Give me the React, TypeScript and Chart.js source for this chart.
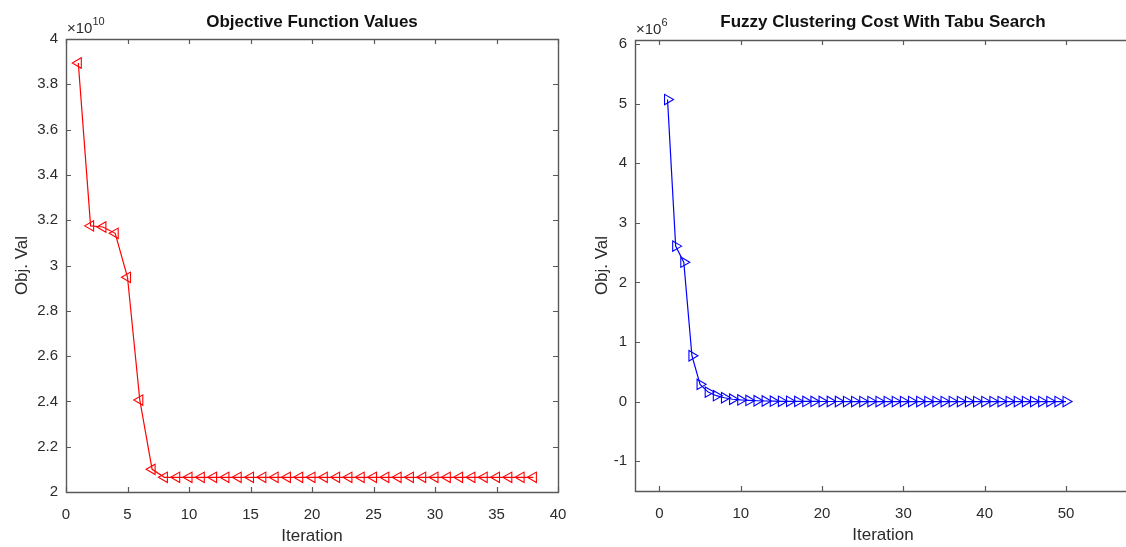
import React, { useEffect, useRef } from "react";
import { Chart, registerables } from "chart.js";
Chart.register(...registerables);

// ---- Left chart data ----
const leftTitle = "Objective Function Values";
const leftIterations = [1, 2, 3, 4, 5, 6, 7, 8, 9, 10, 11, 12, 13, 14, 15, 16, 17, 18, 19, 20, 21, 22, 23, 24, 25, 26, 27, 28, 29, 30, 31, 32, 33, 34, 35, 36, 37, 38];
const leftValues = [
  3.894e10, 3.175e10, 3.17e10, 3.142e10, 2.948e10, 2.406e10, 2.1e10,
  2.065e10, 2.065e10, 2.065e10, 2.065e10, 2.065e10, 2.065e10, 2.065e10, 2.065e10,
  2.065e10, 2.065e10, 2.065e10, 2.065e10, 2.065e10, 2.065e10, 2.065e10, 2.065e10,
  2.065e10, 2.065e10, 2.065e10, 2.065e10, 2.065e10, 2.065e10, 2.065e10, 2.065e10,
  2.065e10, 2.065e10, 2.065e10, 2.065e10, 2.065e10, 2.065e10, 2.065e10,
];
const leftXTicks = [0, 5, 10, 15, 20, 25, 30, 35, 40];
const leftYTicks = [2e10, 2.2e10, 2.4e10, 2.6e10, 2.8e10, 3e10, 3.2e10, 3.4e10, 3.6e10, 3.8e10, 4e10];
const leftExponent = 10;

// ---- Right chart data ----
const rightTitle = "Fuzzy Clustering Cost With Tabu Search";
const rightIterations = [1, 2, 3, 4, 5, 6, 7, 8, 9, 10, 11, 12, 13, 14, 15, 16, 17, 18, 19, 20, 21, 22, 23, 24, 25, 26, 27, 28, 29, 30, 31, 32, 33, 34, 35, 36, 37, 38, 39, 40, 41, 42, 43, 44, 45, 46, 47, 48, 49, 50];
const rightValues = [
  5.07e6, 2.61e6, 2.34e6, 0.77e6, 0.29e6, 0.16e6, 0.1e6, 0.065e6, 0.04e6, 0.028e6,
  0.02e6, 0.015e6, 0.011e6, 0.008e6, 0.006e6, 0.005e6, 0.004e6, 0.003e6, 0.003e6, 0.002e6,
  0.002e6, 0.002e6, 0.001e6, 0.001e6, 0.001e6, 0.001e6, 0.001e6, 0.001e6, 0.001e6, 0.001e6,
  0.001e6, 0.001e6, 0.001e6, 0.001e6, 0.001e6, 0.001e6, 0.001e6, 0.001e6, 0.001e6, 0.001e6,
  0.001e6, 0.001e6, 0.001e6, 0.001e6, 0.001e6, 0.001e6, 0.001e6, 0.001e6, 0.001e6, 0.001e6,
];
const rightXTicks = [0, 10, 20, 30, 40, 50];
const rightYTicks = [-1e6, 0, 1e6, 2e6, 3e6, 4e6, 5e6, 6e6];
const rightExponent = 6;

const xLabel = "Iteration";
const yLabel = "Obj. Val";

const FONT = "'Liberation Sans', Arial, Helvetica, sans-serif";
const TEXT = "#2b2b2b";
const AXIS = "#595959";

type Spec = {
  title: string;
  xs: number[];
  ys: number[];
  xTicks: number[];
  yTicks: number[];
  exp: number;
  xMin: number;
  xMax: number;
  yMin: number;
  yMax: number;
  color: string;
  rotation: number;
  width: number;
  yAxisWidth: number;
  xAxisHeight: number;
  padTop: number;
  padRight: number;
  yLabelX: number;
  drawRight: boolean;
  titleShift: number;
};

const decorPlugin = (spec: Spec) => ({
  id: "matlabDecor",
  afterDraw(chart: any) {
    const ctx = chart.ctx;
    const a = chart.chartArea;
    const xs = chart.scales.x;
    const ys = chart.scales.y;
    ctx.save();
    ctx.strokeStyle = AXIS;
    ctx.lineWidth = 1.4;
    // box
    ctx.beginPath();
    const rx = spec.drawRight ? a.right + 0.5 : chart.width + 5;
    ctx.moveTo(rx, a.top + 0.5);
    ctx.lineTo(a.left + 0.5, a.top + 0.5);
    ctx.lineTo(a.left + 0.5, a.bottom + 0.5);
    ctx.lineTo(rx, a.bottom + 0.5);
    if (spec.drawRight) ctx.closePath();
    ctx.stroke();
    // inward ticks
    const tl = 5;
    ctx.lineWidth = 1.2;
    ctx.beginPath();
    spec.xTicks.forEach((v) => {
      const px = Math.round(xs.getPixelForValue(v)) + 0.5;
      ctx.moveTo(px, a.bottom);
      ctx.lineTo(px, a.bottom - tl);
      ctx.moveTo(px, a.top);
      ctx.lineTo(px, a.top + tl);
    });
    spec.yTicks.forEach((v) => {
      const py = Math.round(ys.getPixelForValue(v)) + 0.5;
      ctx.moveTo(a.left, py);
      ctx.lineTo(a.left + tl, py);
      if (spec.drawRight) {
        ctx.moveTo(a.right, py);
        ctx.lineTo(a.right - tl, py);
      }
    });
    ctx.stroke();

    // title
    ctx.font = `bold 17px ${FONT}`;
    ctx.textAlign = "center";
    ctx.textBaseline = "middle";
    ctx.fillStyle = "#111";
    ctx.fillText(spec.title, (a.left + a.right) / 2 + spec.titleShift, 22);
    ctx.fillStyle = TEXT;
    // x label
    ctx.font = `17px ${FONT}`;
    ctx.fillText(xLabel, (a.left + a.right) / 2 + spec.titleShift, a.bottom + 44);
    // y label
    ctx.save();
    ctx.translate(spec.yLabelX, (a.top + a.bottom) / 2);
    ctx.rotate(-Math.PI / 2);
    ctx.fillText(yLabel, 0, 0);
    ctx.restore();
    // exponent
    ctx.textAlign = "left";
    ctx.textBaseline = "alphabetic";
    ctx.font = `15px ${FONT}`;
    const base = "\u00d710";
    const x0 = a.left + 1;
    ctx.fillText(base, x0, a.top - 6);
    const w = ctx.measureText(base).width;
    ctx.font = `11px ${FONT}`;
    ctx.fillText(String(spec.exp), x0 + w, a.top - 14);
    ctx.restore();
  },
});

function MatlabChart({ spec }: { spec: Spec }) {
  const ref = useRef<HTMLCanvasElement | null>(null);
  useEffect(() => {
    if (!ref.current) return;
    const div = Math.pow(10, spec.exp);
    const chart = new Chart(ref.current, {
      type: "line",
      data: {
        datasets: [
          {
            data: spec.xs.map((x, i) => ({ x, y: spec.ys[i] })),
            borderColor: spec.color,
            borderWidth: 1.2,
            backgroundColor: "rgba(0,0,0,0)",
            pointStyle: "triangle",
            pointRotation: spec.rotation,
            pointRadius: 6,
            pointBorderWidth: 1.1,
            pointBorderColor: spec.color,
            pointBackgroundColor: "rgba(0,0,0,0)",
            tension: 0,
            fill: false,
          },
        ],
      },
      options: {
        responsive: false,
        animation: false,
        devicePixelRatio: 1,
        layout: { padding: { top: spec.padTop, right: spec.padRight, left: 0, bottom: 0 } },
        plugins: { legend: { display: false }, tooltip: { enabled: false }, title: { display: false } },
        scales: {
          x: {
            type: "linear",
            min: spec.xMin,
            max: spec.xMax,
            grid: { display: false, drawTicks: false },
            border: { display: false },
            afterBuildTicks: (s: any) => {
              s.ticks = spec.xTicks.map((v) => ({ value: v }));
            },
            afterFit: (s: any) => {
              s.height = spec.xAxisHeight;
              s.paddingLeft = 0;
              s.paddingRight = 0;
            },
            ticks: {
              autoSkip: false,
              maxRotation: 0,
              padding: 14,
              color: TEXT,
              font: { family: FONT, size: 15 },
              callback: (v: any) => String(v),
            },
          },
          y: {
            type: "linear",
            min: spec.yMin,
            max: spec.yMax,
            grid: { display: false, drawTicks: false },
            border: { display: false },
            afterBuildTicks: (s: any) => {
              s.ticks = spec.yTicks.map((v) => ({ value: v }));
            },
            afterFit: (s: any) => {
              s.width = spec.yAxisWidth;
              s.paddingTop = 0;
              s.paddingBottom = 0;
            },
            ticks: {
              autoSkip: false,
              padding: 8,
              color: TEXT,
              font: { family: FONT, size: 15 },
              callback: (v: any) => String(Number((Number(v) / div).toFixed(1))),
            },
          },
        },
      },
      plugins: [decorPlugin(spec)],
    } as any);
    return () => chart.destroy();
  }, [spec]);
  return <canvas ref={ref} width={spec.width} height={547} style={{ display: "block" }} />;
}

const leftSpec: Spec = {
  title: leftTitle,
  xs: leftIterations,
  ys: leftValues,
  xTicks: leftXTicks,
  yTicks: leftYTicks,
  exp: leftExponent,
  xMin: 0,
  xMax: 40,
  yMin: 2e10,
  yMax: 4e10,
  color: "#ff0000",
  rotation: -90,
  width: 570,
  yAxisWidth: 66,
  xAxisHeight: 55,
  padTop: 39,
  padRight: 12,
  yLabelX: 22,
  drawRight: true,
  titleShift: 0,
};

const rightSpec: Spec = {
  title: rightTitle,
  xs: rightIterations,
  ys: rightValues,
  xTicks: rightXTicks,
  yTicks: rightYTicks,
  exp: rightExponent,
  xMin: -3,
  xMax: 56.5,
  yMin: -1.5e6,
  yMax: 6.07e6,
  color: "#0000ff",
  rotation: 90,
  width: 556,
  yAxisWidth: 65,
  xAxisHeight: 56,
  padTop: 40,
  padRight: 0,
  yLabelX: 32,
  drawRight: false,
  titleShift: 6,
};

export default function App() {
  return (
    <div
      style={{
        position: "fixed",
        left: 0,
        top: 0,
        width: 1126,
        height: 547,
        overflow: "hidden",
        background: "#fff",
      }}
    >
      <div style={{ position: "absolute", left: 0, top: 0, width: 570 }}>
        <MatlabChart spec={leftSpec} />
      </div>
      <div style={{ position: "absolute", left: 570, top: 0, width: 556 }}>
        <MatlabChart spec={rightSpec} />
      </div>
    </div>
  );
}
